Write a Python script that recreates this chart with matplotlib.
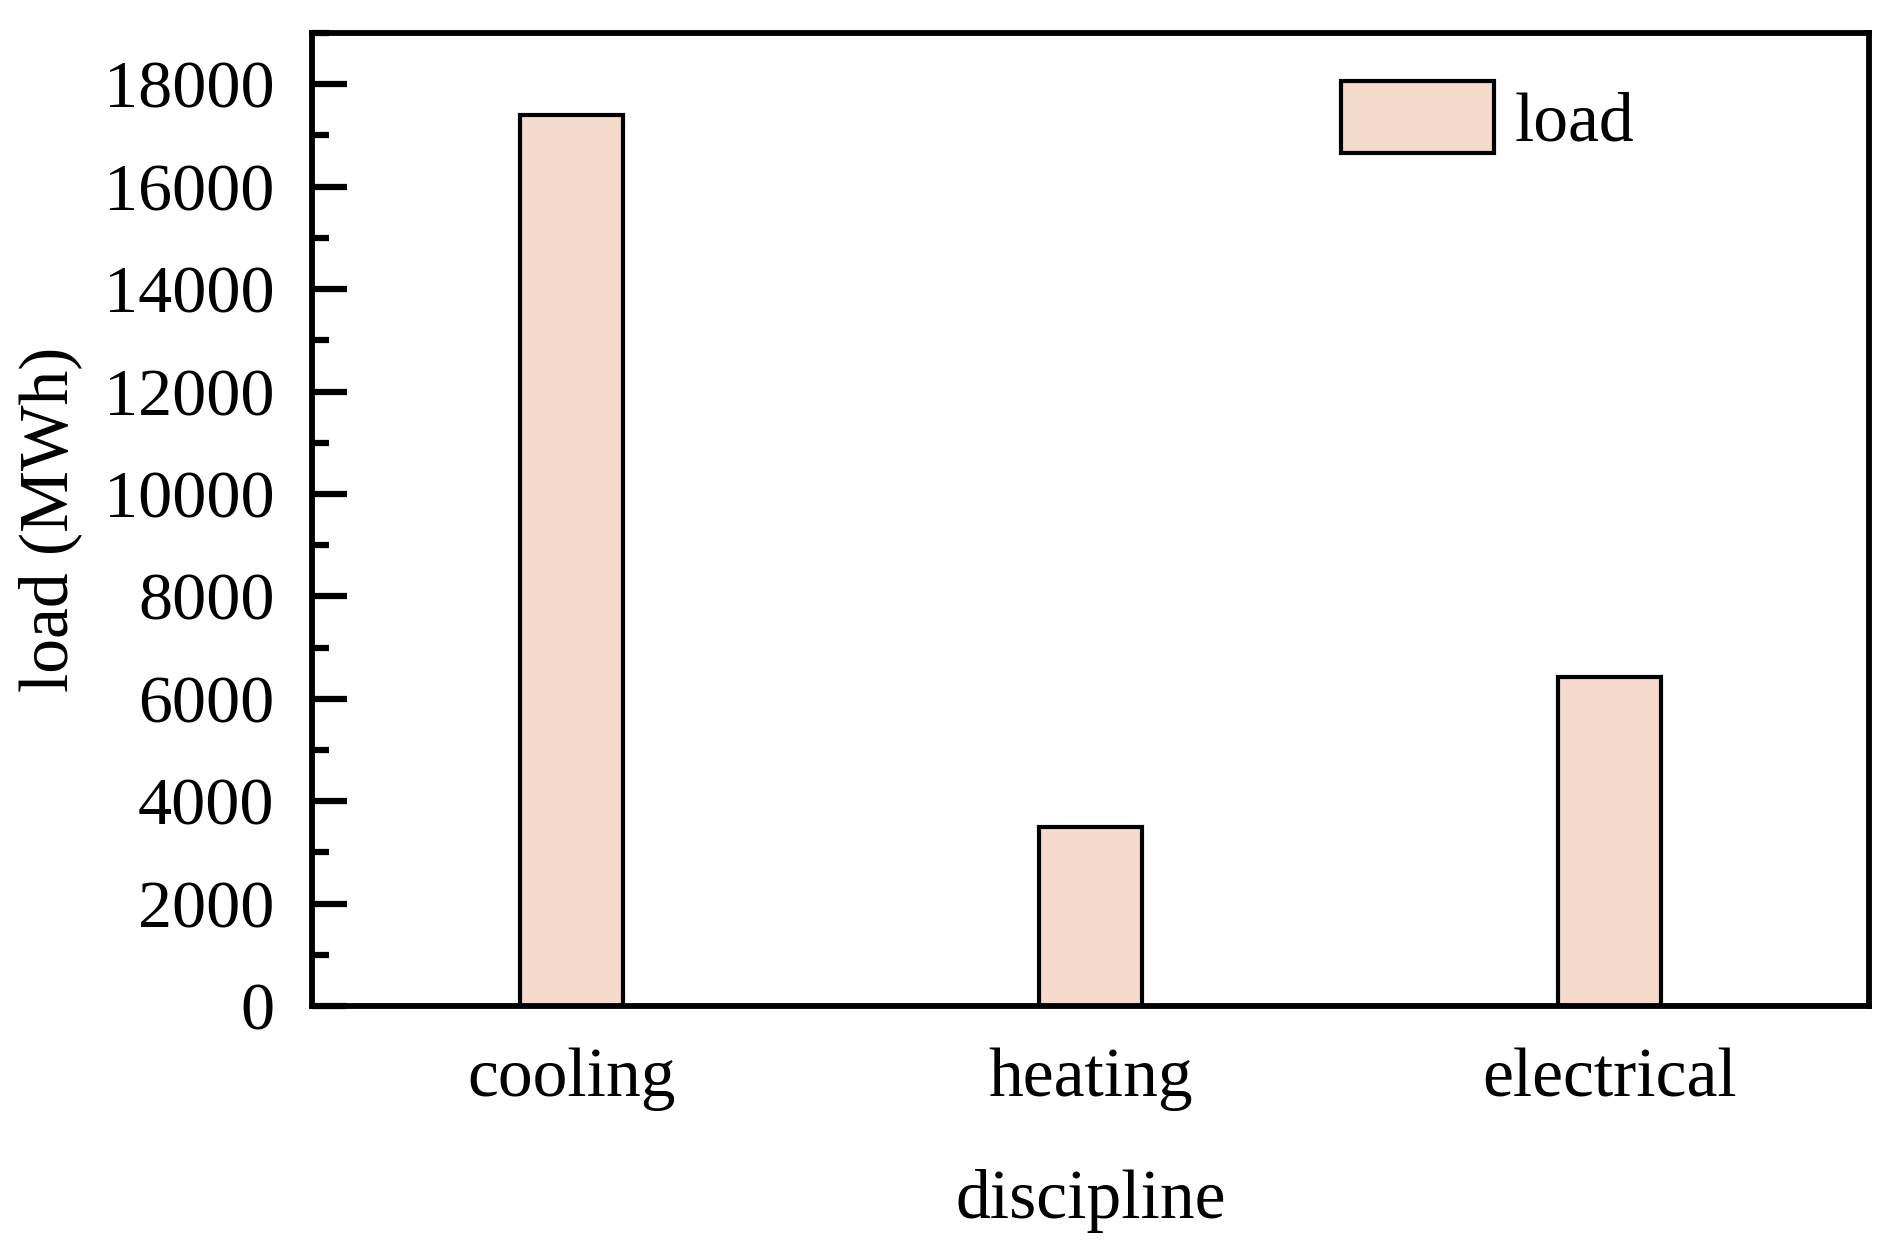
import numpy as np
import matplotlib.pyplot as plt
from matplotlib.ticker import MultipleLocator

plt.rcParams['font.family'] = ['Liberation Serif', 'DejaVu Serif']

categories = ['cooling', 'heating', 'electrical']
load = [17400, 3500, 6430]

fig = plt.figure(figsize=(18.93, 12.52), dpi=100)
ax = fig.add_axes([0.1648, 0.1965, 0.8225, 0.7771])

x = np.arange(len(categories))
ax.bar(x, load, width=0.2, color='#F4DBCB', edgecolor='black', linewidth=3, label='load')

ax.set_xlim(-0.5, 2.5)
ax.set_ylim(0, 19000)
ax.set_xticks(x)
ax.set_xticklabels(categories)
ax.yaxis.set_major_locator(MultipleLocator(2000))
ax.yaxis.set_minor_locator(MultipleLocator(1000))

for s in ax.spines.values():
    s.set_linewidth(4.2)
ax.tick_params(axis='y', which='major', direction='in', length=25, width=4.5, labelsize=49, pad=27)
ax.tick_params(axis='y', which='minor', direction='in', length=12, width=4.5)
ax.tick_params(axis='x', which='both', length=0, labelsize=50, pad=30)

ax.set_xlabel('discipline', fontsize=50, labelpad=42)
ax.set_ylabel('load (MWh)', fontsize=50, labelpad=16)

ax.legend(loc='upper left', bbox_to_anchor=(0.661, 0.951), frameon=False, fontsize=50,
          handlelength=2.2, handleheight=1.22, handletextpad=0.3, borderpad=0, borderaxespad=0)

fig.savefig('out.png', dpi=100)
